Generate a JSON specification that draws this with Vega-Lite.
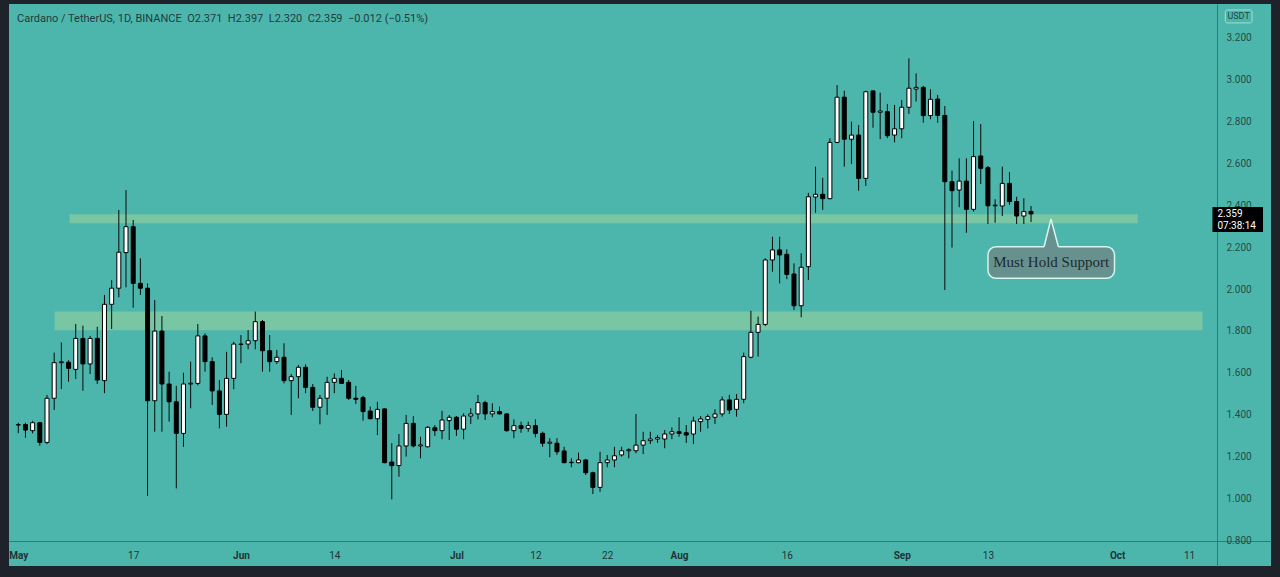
{
  "$schema": "https://vega.github.io/schema/vega-lite/v6.json",
  "width": 1262,
  "height": 562,
  "autosize": "none",
  "padding": {"left": 9, "top": 4, "right": 9, "bottom": 11},
  "background": "#1e222b",
  "config": {
    "view": {"fill": "#4db6ac", "stroke": null},
    "font": "Roboto"
  },
  "title": {
    "text": "Cardano / TetherUS, 1D, BINANCE\u00a0\u00a0O2.371\u00a0\u00a0H2.397\u00a0\u00a0L2.320\u00a0\u00a0C2.359\u00a0\u00a0\u22120.012 (\u22120.51%)",
    "anchor": "start",
    "frame": "group",
    "orient": "top",
    "offset": 0,
    "dx": 8,
    "dy": 26,
    "baseline": "middle",
    "font": "Roboto",
    "fontSize": 11,
    "fontWeight": "normal",
    "color": "#1f3b3e"
  },
  "datasets": {
    "candles": [
      {"date": "2021-05-01", "open": 1.350, "high": 1.361, "low": 1.311, "close": 1.352},
      {"date": "2021-05-02", "open": 1.352, "high": 1.361, "low": 1.289, "close": 1.326},
      {"date": "2021-05-03", "open": 1.323, "high": 1.370, "low": 1.310, "close": 1.361},
      {"date": "2021-05-04", "open": 1.361, "high": 1.365, "low": 1.251, "close": 1.267},
      {"date": "2021-05-05", "open": 1.267, "high": 1.494, "low": 1.259, "close": 1.478},
      {"date": "2021-05-06", "open": 1.478, "high": 1.696, "low": 1.422, "close": 1.648},
      {"date": "2021-05-07", "open": 1.648, "high": 1.745, "low": 1.522, "close": 1.652},
      {"date": "2021-05-08", "open": 1.650, "high": 1.660, "low": 1.557, "close": 1.621},
      {"date": "2021-05-09", "open": 1.616, "high": 1.833, "low": 1.570, "close": 1.764},
      {"date": "2021-05-10", "open": 1.764, "high": 1.825, "low": 1.514, "close": 1.642},
      {"date": "2021-05-11", "open": 1.642, "high": 1.776, "low": 1.594, "close": 1.764},
      {"date": "2021-05-12", "open": 1.764, "high": 1.820, "low": 1.546, "close": 1.565},
      {"date": "2021-05-13", "open": 1.562, "high": 1.972, "low": 1.502, "close": 1.927},
      {"date": "2021-05-14", "open": 1.927, "high": 2.043, "low": 1.809, "close": 2.004},
      {"date": "2021-05-15", "open": 2.004, "high": 2.378, "low": 1.961, "close": 2.176},
      {"date": "2021-05-16", "open": 2.174, "high": 2.473, "low": 2.008, "close": 2.298},
      {"date": "2021-05-17", "open": 2.298, "high": 2.330, "low": 1.911, "close": 2.027},
      {"date": "2021-05-18", "open": 2.027, "high": 2.147, "low": 1.972, "close": 2.004},
      {"date": "2021-05-19", "open": 2.004, "high": 2.027, "low": 1.011, "close": 1.466},
      {"date": "2021-05-20", "open": 1.466, "high": 1.948, "low": 1.318, "close": 1.799},
      {"date": "2021-05-21", "open": 1.799, "high": 1.871, "low": 1.318, "close": 1.546},
      {"date": "2021-05-22", "open": 1.546, "high": 1.605, "low": 1.366, "close": 1.461},
      {"date": "2021-05-23", "open": 1.461, "high": 1.537, "low": 1.047, "close": 1.310},
      {"date": "2021-05-24", "open": 1.310, "high": 1.600, "low": 1.246, "close": 1.546},
      {"date": "2021-05-25", "open": 1.546, "high": 1.653, "low": 1.430, "close": 1.550},
      {"date": "2021-05-26", "open": 1.549, "high": 1.833, "low": 1.540, "close": 1.776},
      {"date": "2021-05-27", "open": 1.776, "high": 1.788, "low": 1.605, "close": 1.653},
      {"date": "2021-05-28", "open": 1.653, "high": 1.674, "low": 1.446, "close": 1.513},
      {"date": "2021-05-29", "open": 1.513, "high": 1.565, "low": 1.334, "close": 1.401},
      {"date": "2021-05-30", "open": 1.401, "high": 1.700, "low": 1.342, "close": 1.573},
      {"date": "2021-05-31", "open": 1.573, "high": 1.748, "low": 1.521, "close": 1.737},
      {"date": "2021-06-01", "open": 1.737, "high": 1.780, "low": 1.645, "close": 1.735},
      {"date": "2021-06-02", "open": 1.737, "high": 1.804, "low": 1.712, "close": 1.753},
      {"date": "2021-06-03", "open": 1.753, "high": 1.892, "low": 1.712, "close": 1.844},
      {"date": "2021-06-04", "open": 1.844, "high": 1.852, "low": 1.605, "close": 1.705},
      {"date": "2021-06-05", "open": 1.705, "high": 1.780, "low": 1.605, "close": 1.653},
      {"date": "2021-06-06", "open": 1.653, "high": 1.709, "low": 1.642, "close": 1.674},
      {"date": "2021-06-07", "open": 1.674, "high": 1.741, "low": 1.549, "close": 1.562},
      {"date": "2021-06-08", "open": 1.562, "high": 1.594, "low": 1.398, "close": 1.581},
      {"date": "2021-06-09", "open": 1.581, "high": 1.637, "low": 1.478, "close": 1.626},
      {"date": "2021-06-10", "open": 1.626, "high": 1.640, "low": 1.502, "close": 1.530},
      {"date": "2021-06-11", "open": 1.530, "high": 1.546, "low": 1.417, "close": 1.435},
      {"date": "2021-06-12", "open": 1.435, "high": 1.494, "low": 1.353, "close": 1.478},
      {"date": "2021-06-13", "open": 1.478, "high": 1.581, "low": 1.398, "close": 1.554},
      {"date": "2021-06-14", "open": 1.554, "high": 1.597, "low": 1.502, "close": 1.573},
      {"date": "2021-06-15", "open": 1.573, "high": 1.613, "low": 1.546, "close": 1.549},
      {"date": "2021-06-16", "open": 1.554, "high": 1.565, "low": 1.470, "close": 1.478},
      {"date": "2021-06-17", "open": 1.478, "high": 1.537, "low": 1.450, "close": 1.473},
      {"date": "2021-06-18", "open": 1.481, "high": 1.490, "low": 1.371, "close": 1.414},
      {"date": "2021-06-19", "open": 1.417, "high": 1.438, "low": 1.377, "close": 1.380},
      {"date": "2021-06-20", "open": 1.380, "high": 1.461, "low": 1.302, "close": 1.425},
      {"date": "2021-06-21", "open": 1.427, "high": 1.430, "low": 1.167, "close": 1.170},
      {"date": "2021-06-22", "open": 1.173, "high": 1.263, "low": 0.995, "close": 1.156},
      {"date": "2021-06-23", "open": 1.156, "high": 1.307, "low": 1.103, "close": 1.250},
      {"date": "2021-06-24", "open": 1.250, "high": 1.398, "low": 1.199, "close": 1.358},
      {"date": "2021-06-25", "open": 1.358, "high": 1.393, "low": 1.243, "close": 1.250},
      {"date": "2021-06-26", "open": 1.250, "high": 1.294, "low": 1.191, "close": 1.255},
      {"date": "2021-06-27", "open": 1.246, "high": 1.345, "low": 1.243, "close": 1.339},
      {"date": "2021-06-28", "open": 1.337, "high": 1.350, "low": 1.298, "close": 1.323},
      {"date": "2021-06-29", "open": 1.323, "high": 1.418, "low": 1.282, "close": 1.374},
      {"date": "2021-06-30", "open": 1.371, "high": 1.398, "low": 1.278, "close": 1.387},
      {"date": "2021-07-01", "open": 1.387, "high": 1.393, "low": 1.298, "close": 1.330},
      {"date": "2021-07-02", "open": 1.330, "high": 1.406, "low": 1.282, "close": 1.393},
      {"date": "2021-07-03", "open": 1.393, "high": 1.430, "low": 1.355, "close": 1.403},
      {"date": "2021-07-04", "open": 1.403, "high": 1.494, "low": 1.377, "close": 1.457},
      {"date": "2021-07-05", "open": 1.457, "high": 1.466, "low": 1.374, "close": 1.403},
      {"date": "2021-07-06", "open": 1.403, "high": 1.454, "low": 1.387, "close": 1.414},
      {"date": "2021-07-07", "open": 1.414, "high": 1.438, "low": 1.401, "close": 1.403},
      {"date": "2021-07-08", "open": 1.403, "high": 1.406, "low": 1.318, "close": 1.323},
      {"date": "2021-07-09", "open": 1.323, "high": 1.377, "low": 1.287, "close": 1.347},
      {"date": "2021-07-10", "open": 1.347, "high": 1.366, "low": 1.313, "close": 1.334},
      {"date": "2021-07-11", "open": 1.334, "high": 1.366, "low": 1.318, "close": 1.347},
      {"date": "2021-07-12", "open": 1.347, "high": 1.377, "low": 1.291, "close": 1.310},
      {"date": "2021-07-13", "open": 1.310, "high": 1.318, "low": 1.246, "close": 1.263},
      {"date": "2021-07-14", "open": 1.263, "high": 1.287, "low": 1.196, "close": 1.268},
      {"date": "2021-07-15", "open": 1.263, "high": 1.287, "low": 1.207, "close": 1.222},
      {"date": "2021-07-16", "open": 1.226, "high": 1.246, "low": 1.167, "close": 1.170},
      {"date": "2021-07-17", "open": 1.170, "high": 1.191, "low": 1.148, "close": 1.172},
      {"date": "2021-07-18", "open": 1.170, "high": 1.218, "low": 1.167, "close": 1.183},
      {"date": "2021-07-19", "open": 1.183, "high": 1.188, "low": 1.111, "close": 1.122},
      {"date": "2021-07-20", "open": 1.122, "high": 1.127, "low": 1.020, "close": 1.052},
      {"date": "2021-07-21", "open": 1.052, "high": 1.222, "low": 1.031, "close": 1.170},
      {"date": "2021-07-22", "open": 1.170, "high": 1.207, "low": 1.148, "close": 1.183},
      {"date": "2021-07-23", "open": 1.183, "high": 1.246, "low": 1.148, "close": 1.203},
      {"date": "2021-07-24", "open": 1.207, "high": 1.246, "low": 1.199, "close": 1.227},
      {"date": "2021-07-25", "open": 1.227, "high": 1.239, "low": 1.191, "close": 1.232},
      {"date": "2021-07-26", "open": 1.227, "high": 1.403, "low": 1.215, "close": 1.254},
      {"date": "2021-07-27", "open": 1.254, "high": 1.318, "low": 1.211, "close": 1.275},
      {"date": "2021-07-28", "open": 1.275, "high": 1.318, "low": 1.259, "close": 1.283},
      {"date": "2021-07-29", "open": 1.283, "high": 1.302, "low": 1.265, "close": 1.290},
      {"date": "2021-07-30", "open": 1.283, "high": 1.326, "low": 1.239, "close": 1.307},
      {"date": "2021-07-31", "open": 1.307, "high": 1.339, "low": 1.282, "close": 1.318},
      {"date": "2021-08-01", "open": 1.318, "high": 1.387, "low": 1.294, "close": 1.310},
      {"date": "2021-08-02", "open": 1.313, "high": 1.350, "low": 1.265, "close": 1.302},
      {"date": "2021-08-03", "open": 1.307, "high": 1.390, "low": 1.259, "close": 1.369},
      {"date": "2021-08-04", "open": 1.366, "high": 1.393, "low": 1.318, "close": 1.379},
      {"date": "2021-08-05", "open": 1.377, "high": 1.401, "low": 1.334, "close": 1.390},
      {"date": "2021-08-06", "open": 1.387, "high": 1.425, "low": 1.355, "close": 1.403},
      {"date": "2021-08-07", "open": 1.403, "high": 1.486, "low": 1.390, "close": 1.470},
      {"date": "2021-08-08", "open": 1.470, "high": 1.494, "low": 1.403, "close": 1.422},
      {"date": "2021-08-09", "open": 1.425, "high": 1.498, "low": 1.390, "close": 1.473},
      {"date": "2021-08-10", "open": 1.473, "high": 1.696, "low": 1.454, "close": 1.677},
      {"date": "2021-08-11", "open": 1.674, "high": 1.896, "low": 1.669, "close": 1.793},
      {"date": "2021-08-12", "open": 1.793, "high": 1.868, "low": 1.677, "close": 1.831},
      {"date": "2021-08-13", "open": 1.831, "high": 2.147, "low": 1.823, "close": 2.139},
      {"date": "2021-08-14", "open": 2.139, "high": 2.250, "low": 2.083, "close": 2.187},
      {"date": "2021-08-15", "open": 2.187, "high": 2.250, "low": 2.027, "close": 2.163},
      {"date": "2021-08-16", "open": 2.166, "high": 2.190, "low": 2.047, "close": 2.070},
      {"date": "2021-08-17", "open": 2.072, "high": 2.123, "low": 1.900, "close": 1.920},
      {"date": "2021-08-18", "open": 1.920, "high": 2.171, "low": 1.865, "close": 2.104},
      {"date": "2021-08-19", "open": 2.107, "high": 2.460, "low": 2.043, "close": 2.441},
      {"date": "2021-08-20", "open": 2.440, "high": 2.585, "low": 2.365, "close": 2.453},
      {"date": "2021-08-21", "open": 2.453, "high": 2.532, "low": 2.378, "close": 2.432},
      {"date": "2021-08-22", "open": 2.432, "high": 2.721, "low": 2.429, "close": 2.701},
      {"date": "2021-08-23", "open": 2.701, "high": 2.975, "low": 2.697, "close": 2.917},
      {"date": "2021-08-24", "open": 2.917, "high": 2.948, "low": 2.585, "close": 2.716},
      {"date": "2021-08-25", "open": 2.716, "high": 2.800, "low": 2.598, "close": 2.736},
      {"date": "2021-08-26", "open": 2.736, "high": 2.784, "low": 2.470, "close": 2.529},
      {"date": "2021-08-27", "open": 2.529, "high": 2.948, "low": 2.493, "close": 2.943},
      {"date": "2021-08-28", "open": 2.947, "high": 2.948, "low": 2.771, "close": 2.845},
      {"date": "2021-08-29", "open": 2.845, "high": 2.939, "low": 2.716, "close": 2.851},
      {"date": "2021-08-30", "open": 2.848, "high": 2.885, "low": 2.721, "close": 2.733},
      {"date": "2021-08-31", "open": 2.736, "high": 2.880, "low": 2.701, "close": 2.766},
      {"date": "2021-09-01", "open": 2.766, "high": 2.904, "low": 2.721, "close": 2.869},
      {"date": "2021-09-02", "open": 2.869, "high": 3.103, "low": 2.837, "close": 2.960},
      {"date": "2021-09-03", "open": 2.956, "high": 3.031, "low": 2.896, "close": 2.964},
      {"date": "2021-09-04", "open": 2.964, "high": 2.971, "low": 2.795, "close": 2.829},
      {"date": "2021-09-05", "open": 2.829, "high": 2.955, "low": 2.811, "close": 2.907},
      {"date": "2021-09-06", "open": 2.908, "high": 2.928, "low": 2.795, "close": 2.830},
      {"date": "2021-09-07", "open": 2.830, "high": 2.875, "low": 1.995, "close": 2.513},
      {"date": "2021-09-08", "open": 2.513, "high": 2.566, "low": 2.198, "close": 2.470},
      {"date": "2021-09-09", "open": 2.473, "high": 2.625, "low": 2.391, "close": 2.516},
      {"date": "2021-09-10", "open": 2.516, "high": 2.625, "low": 2.269, "close": 2.381},
      {"date": "2021-09-11", "open": 2.381, "high": 2.803, "low": 2.370, "close": 2.633},
      {"date": "2021-09-12", "open": 2.636, "high": 2.789, "low": 2.502, "close": 2.577},
      {"date": "2021-09-13", "open": 2.580, "high": 2.588, "low": 2.311, "close": 2.398},
      {"date": "2021-09-14", "open": 2.398, "high": 2.429, "low": 2.317, "close": 2.401},
      {"date": "2021-09-15", "open": 2.397, "high": 2.585, "low": 2.349, "close": 2.505},
      {"date": "2021-09-16", "open": 2.505, "high": 2.559, "low": 2.402, "close": 2.418},
      {"date": "2021-09-17", "open": 2.418, "high": 2.441, "low": 2.311, "close": 2.349},
      {"date": "2021-09-18", "open": 2.349, "high": 2.434, "low": 2.311, "close": 2.370},
      {"date": "2021-09-19", "open": 2.371, "high": 2.397, "low": 2.320, "close": 2.359}
    ],
    "zones": [
      {"start": "2021-05-08T03:22:00Z", "end": "2021-10-03T20:38:00Z", "bottom": 2.314, "top": 2.357},
      {"start": "2021-05-06T01:41:00Z", "end": "2021-10-12T20:53:00Z", "bottom": 1.803, "top": 1.893}
    ],
    "callout": [
      {"start": "2021-09-13T00:10:00Z", "end": "2021-09-30T14:53:00Z", "bottom": 2.051, "top": 2.202, "mid": "2021-09-21T19:12:00Z", "label": "Must Hold Support", "price": 2.127}
    ],
    "pointer": [
      {"t": "2021-09-20T19:40:00Z", "p": 2.202, "base": 2.192},
      {"t": "2021-09-21T18:43:00Z", "p": 2.335, "base": 2.192},
      {"t": "2021-09-22T19:26:00Z", "p": 2.202, "base": 2.192}
    ],
    "lastprice": [
      {"start": "2021-10-14T06:15:00Z", "end": "2021-10-21T07:12:00Z", "bottom": 2.273, "top": 2.392}
    ],
    "lastlabels": [
      {"tx": "2021-10-14T22:48:00Z", "p": 2.360, "label": "2.359", "kind": "price"},
      {"tx": "2021-10-14T22:48:00Z", "p": 2.301, "label": "07:38:14", "kind": "timer"}
    ],
    "currency": [
      {"start": "2021-10-16T01:12:00Z", "end": "2021-10-19T18:43:00Z", "bottom": 3.272, "top": 3.334, "mid": "2021-10-17T21:36:00Z", "p": 3.303, "label": "USDT"}
    ]
  },
  "layer": [
    {
      "data": {"name": "zones"},
      "mark": {"type": "rect", "fill": "#7dc8a2", "opacity": 0.9},
      "encoding": {
        "x": {"field": "start", "type": "temporal", "scale": {"type": "utc", "domain": [{"year": 2021, "month": 4, "date": 30, "hours": 9, "minutes": 44, "utc": true}, {"year": 2021, "month": 10, "date": 21, "hours": 17, "minutes": 10, "utc": true}]}},
        "x2": {"field": "end"},
        "y": {"field": "bottom", "type": "quantitative", "scale": {"domain": [0.6761, 3.3625], "nice": false, "zero": false}},
        "y2": {"field": "top"}
      }
    },
    {
      "data": {"name": "candles"},
      "mark": {"type": "rule", "color": "#0a0a0a", "strokeWidth": 1},
      "encoding": {
        "x": {
          "field": "date", "type": "temporal",
          "scale": {"type": "utc", "domain": [{"year": 2021, "month": 4, "date": 30, "hours": 9, "minutes": 44, "utc": true}, {"year": 2021, "month": 10, "date": 21, "hours": 17, "minutes": 10, "utc": true}]},
          "axis": {
            "title": null,
            "orient": "bottom",
            "offset": -25,
            "grid": false,
            "ticks": false,
            "tickSize": 0,
            "domainColor": "#2f7c75",
            "domainWidth": 1,
            "labelPadding": 14,
            "labelBaseline": "middle",
            "labelFlush": false,
            "labelOverlap": false,
            "labelFont": "Roboto",
            "labelFontSize": 10,
            "labelColor": "#1d3436",
            "labelFontWeight": {"condition": {"test": "utcdate(datum.value) == 1", "value": "bold"}, "value": "normal"},
            "labelExpr": "utcdate(datum.value) == 1 ? utcFormat(datum.value, '%b') : '' + utcdate(datum.value)",
            "values": [
              {"year": 2021, "month": 5, "date": 1, "utc": true},
              {"year": 2021, "month": 5, "date": 17, "utc": true},
              {"year": 2021, "month": 6, "date": 1, "utc": true},
              {"year": 2021, "month": 6, "date": 14, "utc": true},
              {"year": 2021, "month": 7, "date": 1, "utc": true},
              {"year": 2021, "month": 7, "date": 12, "utc": true},
              {"year": 2021, "month": 7, "date": 22, "utc": true},
              {"year": 2021, "month": 8, "date": 1, "utc": true},
              {"year": 2021, "month": 8, "date": 16, "utc": true},
              {"year": 2021, "month": 9, "date": 1, "utc": true},
              {"year": 2021, "month": 9, "date": 13, "utc": true},
              {"year": 2021, "month": 10, "date": 1, "utc": true},
              {"year": 2021, "month": 10, "date": 11, "utc": true}
            ]
          }
        },
        "y": {
          "field": "low", "type": "quantitative",
          "scale": {"domain": [0.6761, 3.3625], "nice": false, "zero": false},
          "axis": {
            "title": null,
            "orient": "right",
            "offset": -54,
            "grid": false,
            "ticks": false,
            "tickSize": 0,
            "domainColor": "#2f7c75",
            "domainWidth": 1,
            "labelPadding": 9,
            "labelAlign": "left",
            "labelFont": "Roboto",
            "labelFontSize": 10,
            "labelColor": "#234d4a",
            "labelOverlap": false,
            "format": ".3f",
            "values": [0.8, 1.0, 1.2, 1.4, 1.6, 1.8, 2.0, 2.2, 2.4, 2.6, 2.8, 3.0, 3.2]
          }
        },
        "y2": {"field": "high"}
      }
    },
    {
      "data": {"name": "candles"},
      "mark": {"type": "bar", "size": 4, "stroke": "#000000", "strokeWidth": 1},
      "encoding": {
        "x": {"field": "date", "type": "temporal", "scale": {"type": "utc", "domain": [{"year": 2021, "month": 4, "date": 30, "hours": 9, "minutes": 44, "utc": true}, {"year": 2021, "month": 10, "date": 21, "hours": 17, "minutes": 10, "utc": true}]}},
        "y": {"field": "open", "type": "quantitative", "scale": {"domain": [0.6761, 3.3625], "nice": false, "zero": false}},
        "y2": {"field": "close"},
        "fill": {"condition": {"test": "datum.close > datum.open", "value": "#ffffff"}, "value": "#000000"}
      }
    },
    {
      "data": {"name": "callout"},
      "mark": {"type": "rect", "fill": "#66918f", "stroke": "#d6f5ef", "strokeWidth": 1.5, "cornerRadius": 8},
      "encoding": {
        "x": {"field": "start", "type": "temporal", "scale": {"type": "utc", "domain": [{"year": 2021, "month": 4, "date": 30, "hours": 9, "minutes": 44, "utc": true}, {"year": 2021, "month": 10, "date": 21, "hours": 17, "minutes": 10, "utc": true}]}},
        "x2": {"field": "end"},
        "y": {"field": "bottom", "type": "quantitative", "scale": {"domain": [0.6761, 3.3625], "nice": false, "zero": false}},
        "y2": {"field": "top"}
      }
    },
    {
      "data": {"name": "pointer"},
      "mark": {"type": "area", "fill": "#66918f", "opacity": 1},
      "encoding": {
        "x": {"field": "t", "type": "temporal", "scale": {"type": "utc", "domain": [{"year": 2021, "month": 4, "date": 30, "hours": 9, "minutes": 44, "utc": true}, {"year": 2021, "month": 10, "date": 21, "hours": 17, "minutes": 10, "utc": true}]}},
        "y": {"field": "p", "type": "quantitative", "scale": {"domain": [0.6761, 3.3625], "nice": false, "zero": false}},
        "y2": {"field": "base"}
      }
    },
    {
      "data": {"name": "pointer"},
      "mark": {"type": "line", "color": "#d6f5ef", "strokeWidth": 1.5},
      "encoding": {
        "x": {"field": "t", "type": "temporal", "scale": {"type": "utc", "domain": [{"year": 2021, "month": 4, "date": 30, "hours": 9, "minutes": 44, "utc": true}, {"year": 2021, "month": 10, "date": 21, "hours": 17, "minutes": 10, "utc": true}]}},
        "y": {"field": "p", "type": "quantitative", "scale": {"domain": [0.6761, 3.3625], "nice": false, "zero": false}}
      }
    },
    {
      "data": {"name": "callout"},
      "mark": {"type": "text", "font": "Liberation Serif", "fontSize": 15, "color": "#1f2b2e", "align": "center", "baseline": "middle"},
      "encoding": {
        "x": {"field": "mid", "type": "temporal", "scale": {"type": "utc", "domain": [{"year": 2021, "month": 4, "date": 30, "hours": 9, "minutes": 44, "utc": true}, {"year": 2021, "month": 10, "date": 21, "hours": 17, "minutes": 10, "utc": true}]}},
        "y": {"field": "price", "type": "quantitative", "scale": {"domain": [0.6761, 3.3625], "nice": false, "zero": false}},
        "text": {"field": "label"}
      }
    },
    {
      "data": {"name": "lastprice"},
      "mark": {"type": "rect", "fill": "#000000"},
      "encoding": {
        "x": {"field": "start", "type": "temporal", "scale": {"type": "utc", "domain": [{"year": 2021, "month": 4, "date": 30, "hours": 9, "minutes": 44, "utc": true}, {"year": 2021, "month": 10, "date": 21, "hours": 17, "minutes": 10, "utc": true}]}},
        "x2": {"field": "end"},
        "y": {"field": "bottom", "type": "quantitative", "scale": {"domain": [0.6761, 3.3625], "nice": false, "zero": false}},
        "y2": {"field": "top"}
      }
    },
    {
      "data": {"name": "lastlabels"},
      "mark": {"type": "text", "font": "Roboto", "fontSize": 10, "color": "#ffffff", "align": "left", "baseline": "middle"},
      "encoding": {
        "x": {"field": "tx", "type": "temporal", "scale": {"type": "utc", "domain": [{"year": 2021, "month": 4, "date": 30, "hours": 9, "minutes": 44, "utc": true}, {"year": 2021, "month": 10, "date": 21, "hours": 17, "minutes": 10, "utc": true}]}},
        "y": {"field": "p", "type": "quantitative", "scale": {"domain": [0.6761, 3.3625], "nice": false, "zero": false}},
        "text": {"field": "label"},
        "fontWeight": {"condition": {"test": "datum.kind == 'price'", "value": "bold"}, "value": "normal"}
      }
    },
    {
      "data": {"name": "currency"},
      "mark": {"type": "rect", "fill": "#4db6ac", "stroke": "#9ee0d7", "strokeWidth": 1, "cornerRadius": 2},
      "encoding": {
        "x": {"field": "start", "type": "temporal", "scale": {"type": "utc", "domain": [{"year": 2021, "month": 4, "date": 30, "hours": 9, "minutes": 44, "utc": true}, {"year": 2021, "month": 10, "date": 21, "hours": 17, "minutes": 10, "utc": true}]}},
        "x2": {"field": "end"},
        "y": {"field": "bottom", "type": "quantitative", "scale": {"domain": [0.6761, 3.3625], "nice": false, "zero": false}},
        "y2": {"field": "top"}
      }
    },
    {
      "data": {"name": "currency"},
      "mark": {"type": "text", "font": "Roboto", "fontSize": 9, "color": "#1f4a46", "align": "center", "baseline": "middle"},
      "encoding": {
        "x": {"field": "mid", "type": "temporal", "scale": {"type": "utc", "domain": [{"year": 2021, "month": 4, "date": 30, "hours": 9, "minutes": 44, "utc": true}, {"year": 2021, "month": 10, "date": 21, "hours": 17, "minutes": 10, "utc": true}]}},
        "y": {"field": "p", "type": "quantitative", "scale": {"domain": [0.6761, 3.3625], "nice": false, "zero": false}},
        "text": {"field": "label"}
      }
    }
  ]
}
